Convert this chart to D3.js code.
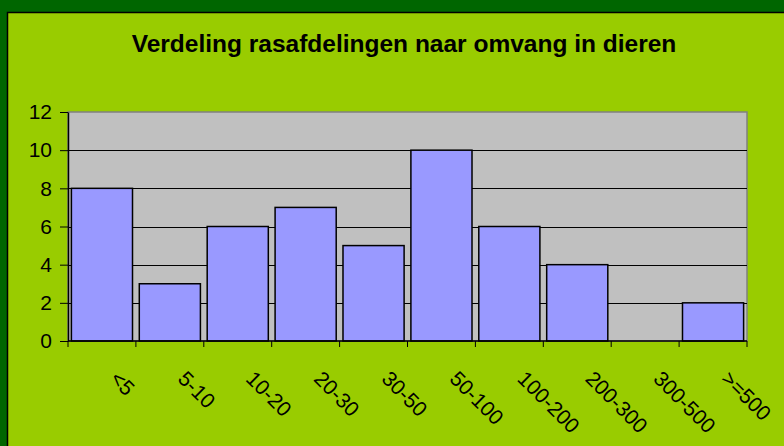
<!DOCTYPE html>
<html>
<head>
<meta charset="utf-8">
<script src="https://cdn.jsdelivr.net/npm/d3@7"></script>
<style>
  html, body { margin: 0; padding: 0; background: #006600; }
  svg { display: block; }
</style>
</head>
<body>
<svg width="784" height="446"></svg>
<script>
const CATEGORIES = ['<5', '5-10', '10-20', '20-30', '30-50', '50-100', '100-200', '200-300', '300-500', '>=500'];
const COUNTS = [8, 3, 6, 7, 5, 10, 6, 4, 0, 2];
const Y_TICKS = [0, 2, 4, 6, 8, 10, 12];
const TITLE = 'Verdeling rasafdelingen naar omvang in dieren';

const svg = d3.select('svg');
const FONT = 'Arial, "Liberation Sans", sans-serif';

// outer chart area (light green with black edge)
svg.append('rect')
  .attr('x', 7.5).attr('y', 12.5)
  .attr('width', 784).attr('height', 446)
  .attr('fill', '#99cc00')
  .attr('stroke', '#000').attr('stroke-width', 1.5);

svg.append('text')
  .attr('x', 404).attr('y', 52)
  .attr('text-anchor', 'middle')
  .style('font-family', FONT)
  .style('font-weight', 'bold')
  .style('font-size', '24.5px')
  .text(TITLE);

const plot = { left: 68, right: 747, top: 112, bottom: 341 };

const x = d3.scaleBand()
  .domain(CATEGORIES)
  .range([plot.left, plot.right])
  .paddingInner(0.1)
  .paddingOuter(0.05);
const y = d3.scaleLinear().domain([0, 12]).range([plot.bottom, plot.top]);

// plot area
svg.append('rect')
  .attr('x', plot.left).attr('y', plot.top)
  .attr('width', plot.right - plot.left).attr('height', plot.bottom - plot.top)
  .attr('fill', '#c0c0c0')
  .attr('stroke', '#808080').attr('stroke-width', 1.5);

// gridlines
svg.append('g')
  .selectAll('line')
  .data(Y_TICKS.filter(d => d > 0 && d < 12))
  .enter()
  .append('line')
  .attr('x1', plot.left).attr('x2', plot.right)
  .attr('y1', d => Math.round(y(d)) + 0.5).attr('y2', d => Math.round(y(d)) + 0.5)
  .attr('stroke', '#000').attr('stroke-width', 1);

// bars
svg.append('g')
  .selectAll('.bar')
  .data(COUNTS)
  .enter()
  .append('rect')
  .classed('bar', true)
  .attr('x', (d, i) => x(CATEGORIES[i]))
  .attr('y', d => y(d))
  .attr('width', x.bandwidth())
  .attr('height', d => plot.bottom - y(d))
  .attr('fill', '#9999ff')
  .attr('stroke', '#000')
  .attr('stroke-width', 1.5)
  .style('display', d => (d > 0 ? null : 'none'));

// y axis
const yAxis = svg.append('g')
  .attr('transform', `translate(${plot.left},0)`)
  .call(d3.axisLeft(y).tickValues(Y_TICKS).tickSize(8).tickPadding(8).tickSizeOuter(0));
yAxis.select('.domain').attr('stroke', '#000').attr('stroke-width', 1.5);
yAxis.selectAll('line').attr('stroke', '#000');
yAxis.selectAll('text')
  .style('font-family', FONT)
  .style('font-size', '21px')
  .attr('fill', '#000');

// x axis: ticks at category boundaries
const step = x.step();
const boundaries = d3.range(CATEGORIES.length + 1).map(i => plot.left + i * step);
const xAxisG = svg.append('g');
xAxisG.append('line')
  .attr('x1', plot.left).attr('x2', plot.right)
  .attr('y1', plot.bottom).attr('y2', plot.bottom)
  .attr('stroke', '#000').attr('stroke-width', 1.5);
xAxisG.selectAll('.xtick')
  .data(boundaries)
  .enter()
  .append('line')
  .attr('x1', d => d).attr('x2', d => d)
  .attr('y1', plot.bottom).attr('y2', plot.bottom + 6)
  .attr('stroke', '#000');

xAxisG.selectAll('.xlabel')
  .data(CATEGORIES)
  .enter()
  .append('text')
  .attr('transform', d => `translate(${x(d) + x.bandwidth() / 2 + 7},380) rotate(45)`)
  .attr('text-anchor', 'start')
  .style('font-family', FONT)
  .style('font-size', '21px')
  .text(d => d);
</script>
</body>
</html>
